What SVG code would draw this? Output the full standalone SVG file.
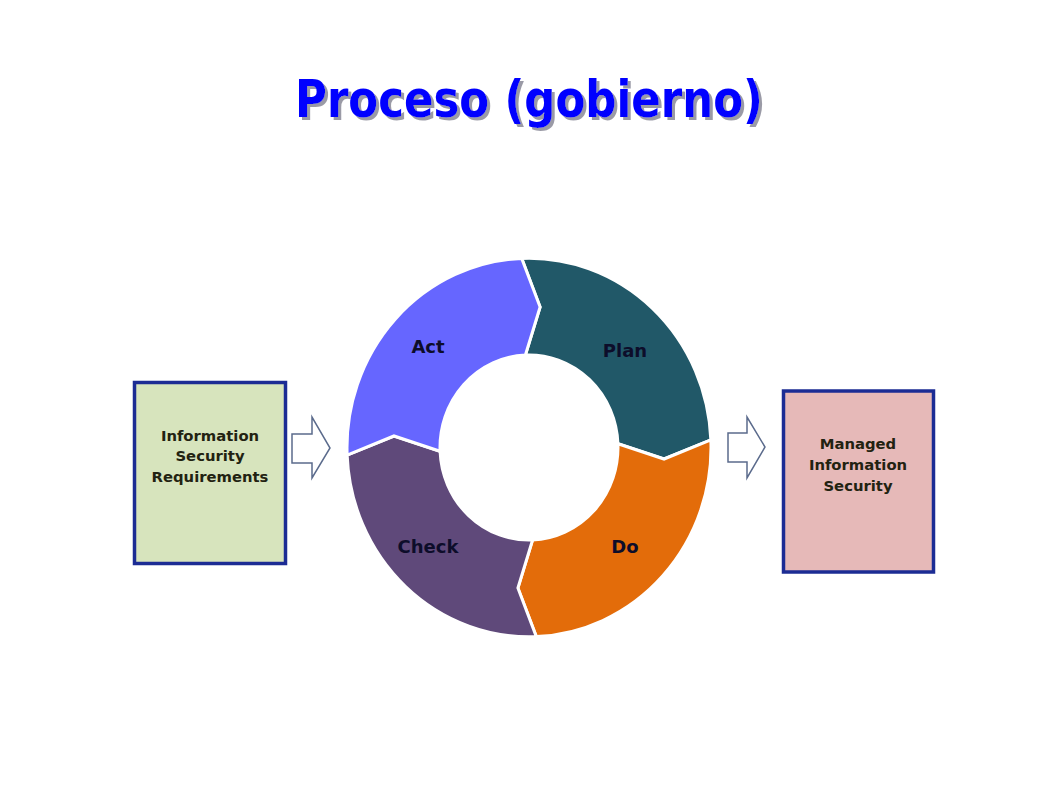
<svg xmlns="http://www.w3.org/2000/svg" width="1058" height="793" viewBox="0 0 1058 793">
<defs>
<filter id="shadow" x="-5%" y="-20%" width="110%" height="140%">
<feOffset in="SourceAlpha" dx="3" dy="3" result="off"/>
<feFlood flood-color="#9a9aa6"/>
<feComposite in2="off" operator="in" result="sh"/>
<feMerge><feMergeNode in="sh"/><feMergeNode in="SourceGraphic"/></feMerge>
</filter>
</defs>
<style>
.title{font-family:"DejaVu Sans","Liberation Sans",sans-serif;font-weight:bold;font-size:52px}
.seg{stroke:#ffffff;stroke-width:3;stroke-linejoin:miter}
.lbl{font-family:"DejaVu Sans","Liberation Sans",sans-serif;font-weight:bold;font-size:18px;fill:#0d0d2a;text-anchor:middle}
.box{stroke:#1c2c94;stroke-width:3.5}
.btxt{font-family:"DejaVu Sans","Liberation Sans",sans-serif;font-weight:bold;font-size:14.8px;fill:#222211;text-anchor:middle}
.arr{fill:#ffffff;stroke:#5b6b8c;stroke-width:1.5;stroke-linejoin:miter}
</style>
<rect width="1058" height="793" fill="#ffffff"/>
<g id="title">
<text class="title" x="529" y="117" text-anchor="middle" textLength="468" lengthAdjust="spacingAndGlyphs" fill="#0000ff" filter="url(#shadow)">Proceso (gobierno)</text>
</g>
<g id="cycle" transform="translate(529,447.5) scale(1,1.04) rotate(-2.3)">
<g id="plan"><path class="seg" fill="#215868" d="M 0,-182 A 182 182 0 0 1 182,0 L 134.5,16.5 L 89,0 A 89 89 0 0 0 0,-89 L 16.5,-134.5 Z"/></g>
<g id="do"><path class="seg" fill="#e36c0a" d="M 182,0 A 182 182 0 0 1 0,182 L -16.5,134.5 L 0,89 A 89 89 0 0 0 89,0 L 134.5,16.5 Z"/></g>
<g id="check"><path class="seg" fill="#5f497a" d="M 0,182 A 182 182 0 0 1 -182,0 L -134.5,-16.5 L -89,0 A 89 89 0 0 0 0,89 L -16.5,134.5 Z"/></g>
<g id="act"><path class="seg" fill="#6666ff" d="M -182,0 A 182 182 0 0 1 0,-182 L 16.5,-134.5 L 0,-89 A 89 89 0 0 0 -89,0 L -134.5,-16.5 Z"/></g>
</g>
<g id="labels">
<text class="lbl" x="428" y="353">Act</text>
<text class="lbl" x="625" y="357">Plan</text>
<text class="lbl" x="625" y="553">Do</text>
<text class="lbl" x="428" y="553">Check</text>
</g>
<g id="input">
<rect class="box" x="134.5" y="382.5" width="151" height="181" fill="#d7e4bd"/>
<text class="btxt" x="210" y="441">Information</text>
<text class="btxt" x="210" y="461">Security</text>
<text class="btxt" x="210" y="482">Requirements</text>
</g>
<g id="output">
<rect class="box" x="783.5" y="391" width="150" height="181" fill="#e6b9b8"/>
<text class="btxt" x="858" y="449">Managed</text>
<text class="btxt" x="858" y="470">Information</text>
<text class="btxt" x="858" y="491">Security</text>
</g>
<g id="connectors">
<path class="arr" d="M 292,434 L 312,434 L 312,417 L 330,448 L 312,478 L 312,463 L 292,463 Z"/>
<path class="arr" d="M 728,433 L 747,433 L 747,417 L 765,447 L 747,478 L 747,462 L 728,462 Z"/>
</g>
</svg>
